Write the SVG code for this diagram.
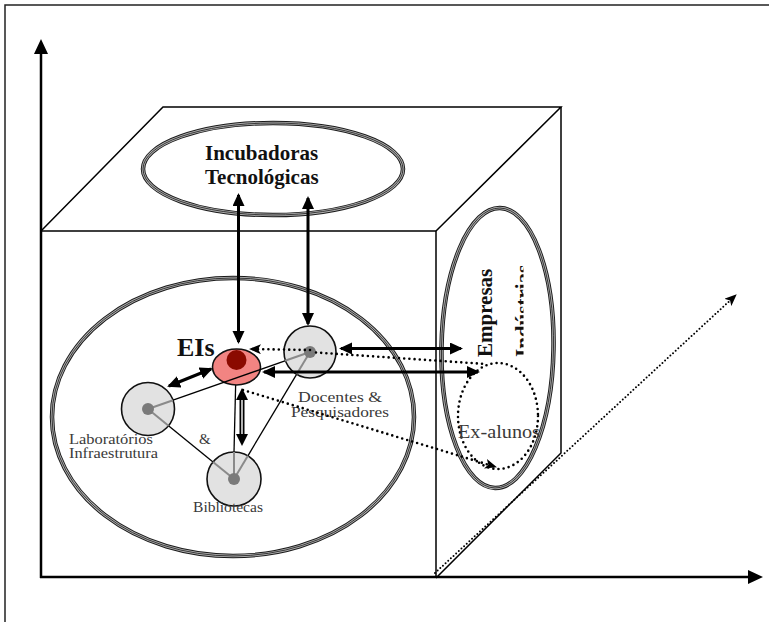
<svg xmlns="http://www.w3.org/2000/svg" width="769" height="622" viewBox="0 0 769 622">
  <defs>
    <style>
      .frame { stroke: #222; stroke-width: 1.5; fill: none; }
      .axis { stroke: #000; stroke-width: 2.5; fill: none; }
      .cube { stroke: #000; stroke-width: 1.5; fill: none; }
      .ring-a { fill: none; stroke: #1a1a1a; stroke-width: 4.5; }
      .ring-b { fill: none; stroke: #b0b0b0; stroke-width: 2.6; }
      .ring-c { fill: none; stroke: #2a2a2a; stroke-width: 0.9; }
      .node { fill: #e2e2e2; stroke: #111; stroke-width: 1.6; }
      .core { fill: #7a7a7a; }
      .spoke { stroke: #8a8a8a; stroke-width: 2; }
      .link { stroke: #000; stroke-width: 1.3; }
      .thick { stroke: #000; stroke-width: 3; fill: none; marker-start: url(#head); marker-end: url(#head); }
      .dots { stroke: #000; stroke-width: 2.6; stroke-dasharray: 0 5.2; stroke-linecap: round; fill: none; }
      .fine-dots { stroke: #000; stroke-width: 2; stroke-dasharray: 0 3.6; stroke-linecap: round; fill: none; }
      .bold { font-family: "Liberation Serif", "DejaVu Serif", serif; font-weight: bold; fill: #111; }
      .label { font-family: "Liberation Serif", "DejaVu Serif", serif; fill: #3a3a3a; }
    </style>
    <marker id="head" markerUnits="userSpaceOnUse" markerWidth="14" markerHeight="13" refX="11" refY="6" orient="auto-start-reverse">
      <path d="M0,0 L13,6 L0,12 z" fill="#000"/>
    </marker>
    <marker id="dothead" markerUnits="userSpaceOnUse" markerWidth="13" markerHeight="11" refX="11" refY="5" orient="auto">
      <path d="M0,0 L12,5 L0,10 L3,5 z" fill="#000"/>
    </marker>
    <clipPath id="clip-ind">
      <rect x="500" y="250" width="23.5" height="120"/>
    </clipPath>
  </defs>

  <!-- page frame -->
  <path class="frame" d="M5,622 L5,5 L769,5"/>

  <!-- axes -->
  <g id="axes">
    <line class="axis" x1="41" y1="578" x2="41" y2="52"/>
    <polygon points="41,39 34,54 48,54" fill="#000"/>
    <line class="axis" x1="40" y1="577" x2="750" y2="577"/>
    <polygon points="763,577 748,570 748,584" fill="#000"/>
  </g>

  <!-- cube -->
  <g id="cube">
    <path class="cube" d="M41,231 L436,231 L436,578"/>
    <path class="cube" d="M41,231 L163,107 L561,107 L436,231"/>
    <path class="cube" d="M561,107 L561,453 L436,578"/>
  </g>

  <!-- depth axis -->
  <g id="depth-axis">
    <line class="fine-dots" x1="435" y1="573" x2="736" y2="295" marker-end="url(#dothead)"/>
  </g>

  <!-- Incubadoras -->
  <g id="incubadoras">
    <ellipse class="ring-a" cx="273" cy="169" rx="130" ry="46"/>
    <ellipse class="ring-b" cx="273" cy="169" rx="130" ry="46"/>
    <ellipse class="ring-c" cx="273" cy="169" rx="130" ry="46"/>
    <text class="bold" x="205" y="160" font-size="21">Incubadoras</text>
    <text class="bold" x="205" y="184" font-size="21">Tecnológicas</text>
  </g>

  <!-- university circle -->
  <g id="universidade">
    <ellipse class="ring-a" cx="233" cy="417" rx="181" ry="139"/>
    <ellipse class="ring-b" cx="233" cy="417" rx="181" ry="139"/>
    <ellipse class="ring-c" cx="233" cy="417" rx="181" ry="139"/>
  </g>

  <!-- Empresas & Indústrias -->
  <g id="empresas">
    <g transform="rotate(1 497.5 348)">
      <ellipse class="ring-a" cx="497.5" cy="348" rx="56" ry="140"/>
      <ellipse class="ring-b" cx="497.5" cy="348" rx="56" ry="140"/>
      <ellipse class="ring-c" cx="497.5" cy="348" rx="56" ry="140"/>
    </g>
    <text class="bold" font-size="21" transform="translate(492 357) rotate(-90)">Empresas</text>
    <g clip-path="url(#clip-ind)">
      <text class="bold" font-size="21" transform="translate(530 357) rotate(-90)">Indústrias</text>
    </g>
  </g>

  <!-- Ex-alunos -->
  <g id="ex-alunos">
    <ellipse class="dots" cx="498" cy="416" rx="40" ry="53"/>
    <text class="label" x="458" y="438" font-size="19" textLength="82" lengthAdjust="spacingAndGlyphs">Ex-alunos</text>
  </g>

  <!-- internal links -->
  <g id="links">
    <line class="link" x1="168.5" y1="425.7" x2="213" y2="462"/>
    <line class="link" x1="296.6" y1="374.3" x2="247.9" y2="455.8"/>
    <line class="link" x1="236" y1="370" x2="234" y2="452"/>
  </g>

  <!-- Laboratórios & Infraestrutura -->
  <g id="laboratorios">
    <circle class="node" cx="148" cy="409" r="26.5"/>
    <line class="spoke" x1="148" y1="409" x2="173" y2="400.2"/>
    <line class="spoke" x1="148" y1="409" x2="168.5" y2="425.7"/>
    <circle class="core" cx="148" cy="409" r="6"/>
    <text class="label" x="69" y="443.5" font-size="14.5" textLength="84" lengthAdjust="spacingAndGlyphs">Laboratórios</text>
    <text class="label" x="199" y="443.5" font-size="15">&amp;</text>
    <text class="label" x="69" y="458" font-size="14.5" textLength="89" lengthAdjust="spacingAndGlyphs">Infraestrutura</text>
  </g>

  <!-- Bibliotecas -->
  <g id="bibliotecas">
    <circle class="node" cx="234" cy="479" r="27"/>
    <line class="spoke" x1="234" y1="479" x2="213" y2="462"/>
    <line class="spoke" x1="234" y1="479" x2="247.9" y2="455.8"/>
    <line class="spoke" x1="234" y1="479" x2="234" y2="452"/>
    <circle class="core" cx="234" cy="479" r="6"/>
    <text class="label" x="193" y="512" font-size="15" textLength="70" lengthAdjust="spacingAndGlyphs">Bibliotecas</text>
  </g>

  <!-- Docentes & Pesquisadores -->
  <g id="docentes">
    <circle class="node" cx="310" cy="352" r="26"/>
    <line class="spoke" x1="310" y1="352" x2="285" y2="360.8"/>
    <line class="spoke" x1="310" y1="352" x2="296.6" y2="374.3"/>
    <circle class="core" cx="310" cy="352" r="6"/>
    <text class="label" x="298" y="401.5" font-size="15.5" textLength="84" lengthAdjust="spacingAndGlyphs">Docentes &amp;</text>
    <text class="label" x="291" y="417" font-size="15.5" textLength="98" lengthAdjust="spacingAndGlyphs">Pesquisadores</text>
  </g>

  <!-- EIs -->
  <g id="eis">
    <ellipse cx="236.5" cy="367" rx="24" ry="18" fill="#f28482" stroke="#111" stroke-width="1.6"/>
    <circle cx="236.5" cy="360" r="10" fill="#8b0a00"/>
    <text class="bold" x="177" y="356" font-size="26">EIs</text>
  </g>

  <!-- connectors -->
  <g id="connectors">
    <line class="link" stroke-width="2" x1="173" y1="400.2" x2="285" y2="360.8"/>
    <line class="thick" x1="238.5" y1="195" x2="238.5" y2="342"/>
    <line class="thick" x1="308" y1="198" x2="308" y2="324"/>
    <line class="thick" x1="169" y1="386" x2="211" y2="369"/>
    <line class="thick" x1="341" y1="348.5" x2="461" y2="348.5"/>
    <line class="thick" x1="264" y1="372" x2="478" y2="372"/>
    <line stroke="#000" stroke-width="5" x1="242" y1="398" x2="242" y2="437"/>
    <line stroke="#fff" stroke-width="1.4" x1="242" y1="398" x2="242" y2="437"/>
    <polygon points="242,388 236,400 248,400" fill="#000"/>
    <polygon points="242,446 236,434 248,434" fill="#000"/>
    <line class="dots" x1="310" y1="350" x2="250" y2="349" marker-end="url(#dothead)"/>
    <line class="dots" x1="316" y1="352.5" x2="486" y2="364"/>
    <line class="dots" x1="243" y1="390" x2="496" y2="467" marker-end="url(#dothead)"/>
  </g>
</svg>
